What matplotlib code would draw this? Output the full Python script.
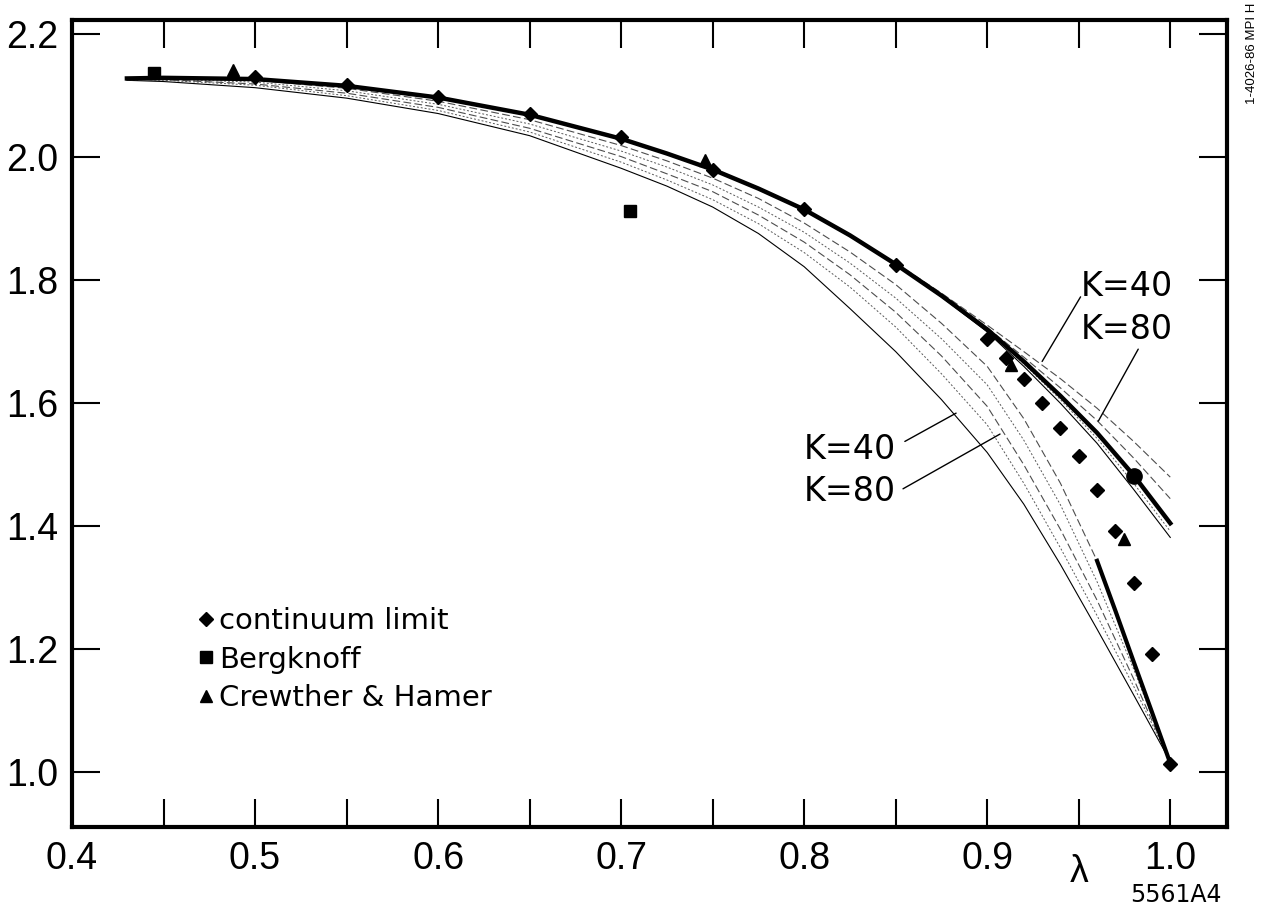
import matplotlib
matplotlib.use("Agg")
import matplotlib.pyplot as plt

plt.rcParams['font.family'] = ['Liberation Sans', 'DejaVu Sans']

# lambda grid the curves were read on
lam_curve = [0.43, 0.45, 0.50, 0.55, 0.60, 0.65, 0.70, 0.725, 0.75, 0.775,
             0.80, 0.825, 0.85, 0.875, 0.90, 0.92, 0.94, 0.96, 0.98, 1.00]

# thick upper curve
thick_upper = [2.128, 2.129, 2.127, 2.116, 2.097, 2.069, 2.030, 2.006, 1.980, 1.949,
               1.915, 1.873, 1.826, 1.775, 1.720, 1.668, 1.612, 1.552, 1.483, 1.405]

# lower family: K=40 lowest, then the bundle up to the thick end piece
lower_k40 = [2.125, 2.123, 2.113, 2.096, 2.071, 2.035, 1.982, 1.953, 1.919, 1.876,
             1.822, 1.754, 1.684, 1.606, 1.520, 1.436, 1.338, 1.233, 1.126, 1.018]
lower_b1 = [2.128, 2.128, 2.125, 2.112, 2.091, 2.061, 2.019, 1.994, 1.966, 1.933,
            1.893, 1.846, 1.793, 1.730, 1.660, 1.575, 1.470, 1.344, 1.180, 1.015]
lower_b2 = [2.127, 2.127, 2.122, 2.108, 2.086, 2.054, 2.010, 1.984, 1.955, 1.919,
            1.878, 1.828, 1.771, 1.705, 1.630, 1.540, 1.435, 1.310, 1.168, 1.016]
lower_b3 = [2.126, 2.126, 2.119, 2.104, 2.081, 2.047, 2.001, 1.973, 1.944, 1.906,
            1.862, 1.809, 1.748, 1.677, 1.595, 1.500, 1.395, 1.280, 1.152, 1.017]
lower_b4 = [2.126, 2.125, 2.117, 2.100, 2.076, 2.041, 1.992, 1.963, 1.931, 1.892,
            1.845, 1.789, 1.724, 1.648, 1.565, 1.470, 1.365, 1.255, 1.140, 1.018]

# thick end piece of the lower family
lam_low_thick = [0.96, 0.97, 0.98, 0.99, 1.00]
low_thick = [1.344, 1.263, 1.180, 1.098, 1.015]

# upper family near lambda -> 1
lam_up = [0.85, 0.875, 0.90, 0.92, 0.94, 0.96, 0.98, 1.00]
upper_k40 = [1.828, 1.779, 1.727, 1.684, 1.640, 1.592, 1.538, 1.480]
upper_k80 = [1.827, 1.777, 1.723, 1.675, 1.625, 1.572, 1.511, 1.445]
upper_c = [1.825, 1.774, 1.718, 1.664, 1.606, 1.543, 1.470, 1.392]
upper_d = [1.825, 1.773, 1.716, 1.660, 1.600, 1.535, 1.460, 1.382]

# data points
cont_lam = [0.50, 0.55, 0.60, 0.65, 0.70, 0.75, 0.80, 0.85, 0.90, 0.91,
            0.92, 0.93, 0.94, 0.95, 0.96, 0.97, 0.98, 0.99, 1.00]
cont_val = [2.130, 2.117, 2.098, 2.070, 2.033, 1.979, 1.915, 1.825, 1.704, 1.673,
            1.639, 1.601, 1.560, 1.514, 1.459, 1.392, 1.308, 1.193, 1.013]
berg_lam = [0.445, 0.705]
berg_val = [2.137, 1.913]
crew_lam = [0.488, 0.746, 0.913, 0.975]
crew_val = [2.141, 1.996, 1.662, 1.379]
dot_lam = [0.98]
dot_val = [1.482]

xticks = [0.40, 0.45, 0.50, 0.55, 0.60, 0.65, 0.70, 0.75, 0.80, 0.85, 0.90, 0.95, 1.00]
xlabels = ['0.4', '', '0.5', '', '0.6', '', '0.7', '', '0.8', '', '0.9', '', '1.0']
yticks = [1.0, 1.2, 1.4, 1.6, 1.8, 2.0, 2.2]
ylabels = ['1.0', '1.2', '1.4', '1.6', '1.8', '2.0', '2.2']

fig = plt.figure(figsize=(12.63, 9.09), dpi=100)
ax = fig.add_axes([0.057, 0.090, 0.9145, 0.888])

thin = dict(color='black', lw=0.8)
dash = dict(color='0.3', lw=0.8, ls=(0, (7, 3)))
dot = dict(color='0.35', lw=0.7, ls=(0, (2, 2)))

ax.plot(lam_curve, lower_k40, **thin)
ax.plot(lam_curve, lower_b4, **dot)
ax.plot(lam_curve, lower_b3, **dash)
ax.plot(lam_curve, lower_b2, **dot)
ax.plot(lam_curve, lower_b1, **dash)
ax.plot(lam_low_thick, low_thick, color='black', lw=3)

ax.plot(lam_up, upper_k40, **dash)
ax.plot(lam_up, upper_k80, **dash)
ax.plot(lam_up, upper_c, **dot)
ax.plot(lam_up, upper_d, **thin)
ax.plot(lam_curve, thick_upper, color='black', lw=3.2)

ax.plot(cont_lam, cont_val, 'D', color='black', ms=7, ls='none', label='continuum limit')
ax.plot(berg_lam, berg_val, 's', color='black', ms=8, ls='none', label='Bergknoff')
ax.plot(crew_lam, crew_val, '^', color='black', ms=9, ls='none', label='Crewther & Hamer')
ax.plot(dot_lam, dot_val, 'o', color='black', ms=11, ls='none')

# K labels with leader lines
lead = dict(arrowstyle='-', color='black', lw=1.0, shrinkA=0, shrinkB=0)
kfont = dict(fontsize=24, family='DejaVu Sans', ha='center', va='center')
ax.text(0.9765, 1.790, 'K=40', **kfont)
ax.text(0.9765, 1.720, 'K=80', **kfont)
ax.annotate('', xy=(0.930, 1.668), xytext=(0.951, 1.773), arrowprops=lead)
ax.annotate('', xy=(0.9607, 1.571), xytext=(0.9825, 1.688), arrowprops=lead)
ax.text(0.825, 1.525, 'K=40', **kfont)
ax.text(0.825, 1.457, 'K=80', **kfont)
ax.annotate('', xy=(0.883, 1.584), xytext=(0.855, 1.538), arrowprops=lead)
ax.annotate('', xy=(0.907, 1.550), xytext=(0.854, 1.461), arrowprops=lead)

ax.set_xlim(0.4, 1.031)
ax.set_ylim(0.911, 2.223)
ax.set_xticks(xticks)
ax.set_xticklabels(xlabels)
ax.set_yticks(yticks)
ax.set_yticklabels(ylabels)
ax.tick_params(direction='in', length=20, width=1.5, labelsize=27, top=True, right=True, pad=10)
for sp in ax.spines.values():
    sp.set_linewidth(3)

ax.annotate('λ', xy=(0.95, 0.911), xytext=(0, -19), textcoords='offset points',
            ha='center', va='top', fontsize=27)

leg = ax.legend(loc='upper left', bbox_to_anchor=(0.098, 0.287), frameon=False,
                prop={'family': 'DejaVu Sans', 'size': 21},
                handlelength=0.6, handletextpad=0.15, labelspacing=0.36, borderaxespad=0)

fig.text(1176 / 1263, 1 - 895 / 909, '5561A4', fontsize=17, family='DejaVu Sans',
         ha='center', va='center')
fig.text(1252 / 1263, 1 - 53 / 909, '1-4026-86 MPI H', fontsize=9.5, rotation=90,
         ha='center', va='center')

fig.savefig('out.png', dpi=100)
